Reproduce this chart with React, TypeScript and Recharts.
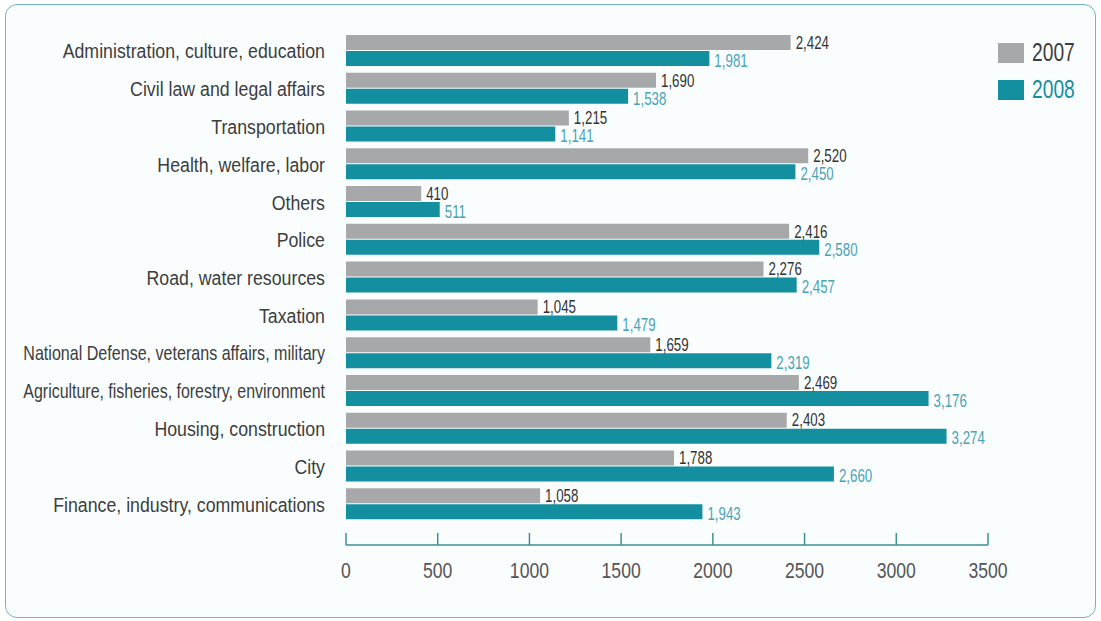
import React from "react";
import { BarChart, Bar, XAxis, YAxis, LabelList } from "recharts";

const categories = [
  "Administration, culture, education",
  "Civil law and legal affairs",
  "Transportation",
  "Health, welfare, labor",
  "Others",
  "Police",
  "Road, water resources",
  "Taxation",
  "National Defense, veterans affairs, military",
  "Agriculture, fisheries, forestry, environment",
  "Housing, construction",
  "City",
  "Finance, industry, communications",
];

const values2007 = [2424, 1690, 1215, 2520, 410, 2416, 2276, 1045, 1659, 2469, 2403, 1788, 1058];
const values2008 = [1981, 1538, 1141, 2450, 511, 2580, 2457, 1479, 2319, 3176, 3274, 2660, 1943];

const xTicks = [0, 500, 1000, 1500, 2000, 2500, 3000, 3500];
const seriesNames = ["2007", "2008"];

const GRAY = "#a7a8aa";
const TEAL = "#148f9f";
const FONT = '"Liberation Sans", Arial, sans-serif';
// the reference uses a condensed face; squeeze a regular one horizontally
const SQUEEZE = 0.8;
const MAX_LABEL_W = 302;

const data = categories.map((name, i) => ({
  name,
  y2007: values2007[i],
  y2008: values2008[i],
}));

function fmt(v: number) {
  return v.toLocaleString("en-US");
}

let measureCtx: CanvasRenderingContext2D | null = null;
function textWidth(s: string, size: number) {
  if (!measureCtx) measureCtx = document.createElement("canvas").getContext("2d");
  if (!measureCtx) return s.length * size * 0.5;
  measureCtx.font = `${size}px "Liberation Sans", Arial, sans-serif`;
  return measureCtx.measureText(s).width;
}

function NarrowText(props: {
  x: number;
  y: number;
  size: number;
  color: string;
  anchor?: "start" | "middle" | "end";
  squeeze?: number;
  children: React.ReactNode;
}) {
  const s = props.squeeze ?? SQUEEZE;
  return (
    <text
      transform={`translate(${props.x},${props.y}) scale(${s},1)`}
      x={0}
      y={0}
      textAnchor={props.anchor ?? "start"}
      dominantBaseline="central"
      fill={props.color}
      fontSize={props.size}
      fontFamily={FONT}
    >
      {props.children}
    </text>
  );
}

function makeValueLabel(color: string, dy: number) {
  return (props: any) => {
    const { x, y, width, height, value } = props;
    return (
      <NarrowText
        x={Number(x) + Number(width) + 5}
        y={Number(y) + Number(height) / 2 + dy}
        size={18}
        color={color}
        squeeze={0.74}
      >
        {fmt(Number(value))}
      </NarrowText>
    );
  };
}

function XTick(props: any) {
  const { x, y, payload } = props;
  return (
    <g>
      <line x1={x} x2={x} y1={y - 12} y2={y} stroke="#3f8f97" strokeWidth={1.5} />
      <NarrowText x={x} y={y + 25} size={22} color="#555" anchor="middle" squeeze={0.8}>
        {payload.value}
      </NarrowText>
    </g>
  );
}

function YTick(props: any) {
  const { x, y, payload } = props;
  const label = String(payload.value);
  const w = textWidth(label, 21);
  const squeeze = Math.min(0.845, MAX_LABEL_W / w);
  return (
    <NarrowText x={x} y={y} size={21} color="#3d3d3d" anchor="end" squeeze={squeeze}>
      {label}
    </NarrowText>
  );
}

function LegendBox() {
  const colors = [GRAY, TEAL];
  const textColors = ["#3d3d3d", TEAL];
  return (
    <div style={{ position: "absolute", left: 998, top: 34 }}>
      {seriesNames.map((label, i) => (
        <div key={label} style={{ display: "flex", alignItems: "center", height: 37 }}>
          <div style={{ width: 26, height: 20, background: colors[i], marginRight: 8 }} />
          <span
            style={{
              fontFamily: FONT,
              fontSize: 25,
              color: textColors[i],
              display: "inline-block",
              transform: "scaleX(0.77)",
              transformOrigin: "left center",
            }}
          >
            {label}
          </span>
        </div>
      ))}
    </div>
  );
}

export default function App() {
  return (
    <div style={{ position: "absolute", left: 0, top: 0, width: 1101, height: 621, background: "#ffffff" }}>
      <div
        style={{
          position: "absolute",
          left: 5,
          top: 4,
          width: 1089,
          height: 612,
          border: "1.5px solid #72b4bf",
          borderRadius: 12,
          background: "#fafdfd",
        }}
      />
      <div style={{ position: "absolute", left: 0, top: 0 }}>
        <BarChart
          width={1101}
          height={621}
          data={data}
          layout="vertical"
          margin={{ top: 32, right: 113, bottom: 36, left: 16 }}
          barSize={15}
          barGap={1}
        >
          <XAxis
            type="number"
            domain={[0, 3500]}
            ticks={xTicks}
            interval={0}
            height={40}
            axisLine={{ stroke: "#3f8f97", strokeWidth: 1.5 }}
            tickLine={false}
            tickSize={0}
            tickMargin={0}
            tick={<XTick />}
          />
          <YAxis
            type="category"
            dataKey="name"
            width={330}
            axisLine={false}
            tickLine={false}
            tickSize={0}
            tickMargin={21}
            interval={0}
            padding={{ top: 0, bottom: 22 }}
            tick={<YTick />}
          />
          <Bar dataKey="y2007" name={seriesNames[0]} fill={GRAY} isAnimationActive={false}>
            <LabelList dataKey="y2007" content={makeValueLabel("#333333", 0)} />
          </Bar>
          <Bar dataKey="y2008" name={seriesNames[1]} fill={TEAL} isAnimationActive={false}>
            <LabelList dataKey="y2008" content={makeValueLabel("#4aa3b5", 2)} />
          </Bar>
        </BarChart>
      </div>
      <LegendBox />
    </div>
  );
}
